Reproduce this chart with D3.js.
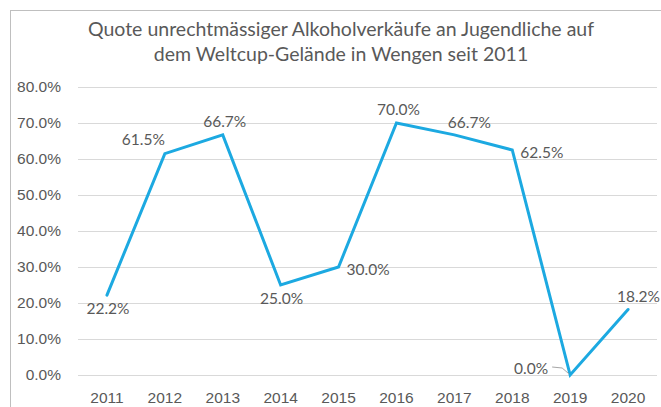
<!DOCTYPE html>
<html>
<head>
<meta charset="utf-8">
<script src="https://cdn.jsdelivr.net/npm/d3@7"></script>
<style>
  body { margin: 0; background: #fff; }
  svg { display: block; font-family: Lato, "Open Sans", sans-serif; }
</style>
</head>
<body>
<svg></svg>
<script>
// data
var years = ["2011", "2012", "2013", "2014", "2015", "2016", "2017", "2018", "2019", "2020"];
var quote = [22.2, 61.5, 66.7, 25.0, 30.0, 70.0, 66.7, 62.5, 0.0, 18.2];
var labelSide = ["below", "left", "above", "below", "right", "above", "aboveRight", "right", "left0", "aboveEdge"];
var yTicks = [0, 10, 20, 30, 40, 50, 60, 70, 80];
var titleLines = ["Quote unrechtmässiger Alkoholverkäufe an Jugendliche auf",
                  "dem Weltcup-Gelände in Wengen seit 2011"];

var data = years.map((d, i) => ({ year: d, value: quote[i], side: labelSide[i] }));

const svgWidth = 661, svgHeight = 407;
var margin = { top: 87, right: 4, bottom: 32, left: 78 };
var width = svgWidth - margin.left - margin.right;
var height = svgHeight - margin.top - margin.bottom;

var textColor = "#595959";
var lineColor = "#1CA9E1";
var fontSize = 15.5;

var svg = d3.select("svg")
    .attr("width", svgWidth)
    .attr("height", svgHeight);

// chart frame
svg.append("rect")
    .attr("x", 10.5).attr("y", 10.5)
    .attr("width", 670).attr("height", 420)
    .attr("fill", "none")
    .attr("stroke", "#bfbfbf");

svg.append("text")
    .attr("text-anchor", "middle")
    .attr("fill", textColor)
    .attr("font-size", 19.5)
    .selectAll("tspan")
    .data(titleLines)
    .enter()
    .append("tspan")
    .attr("x", 341)
    .attr("y", (d, i) => 36 + i * 25)
    .text(d => d);

var g = svg.append("g")
    .attr("transform", "translate(" + margin.left + "," + margin.top + ")");

var x = d3.scaleBand()
    .domain(years)
    .range([0, width]);

var y = d3.scaleLinear()
    .domain([0, 80])
    .range([height, 0]);

// gridlines
g.append("g")
    .selectAll("line")
    .data(yTicks)
    .enter()
    .append("line")
    .attr("x1", 0).attr("x2", width)
    .attr("y1", d => Math.round(y(d)) + 0.5)
    .attr("y2", d => Math.round(y(d)) + 0.5)
    .attr("stroke", "#d9d9d9")
    .attr("stroke-width", 1);

var yAxis = d3.axisLeft(y)
    .tickValues(yTicks)
    .tickSize(0)
    .tickPadding(17)
    .tickFormat(d => d.toFixed(1) + "%");

var xAxis = d3.axisBottom(x)
    .tickSize(0)
    .tickPadding(17);

g.append("g").attr("class", "axis").call(yAxis);
g.append("g").attr("class", "axis")
    .attr("transform", "translate(0," + height + ")")
    .call(xAxis);

g.selectAll(".axis .domain").remove();
g.selectAll(".axis .tick text")
    .attr("font-size", fontSize)
    .attr("fill", textColor);

var cx = d => x(d.year) + x.bandwidth() / 2;

var line = d3.line()
    .x(cx)
    .y(d => y(d.value));

g.append("path")
    .datum(data)
    .attr("d", line)
    .attr("fill", "none")
    .attr("stroke", lineColor)
    .attr("stroke-width", 3)
    .attr("stroke-linejoin", "miter")
    .attr("stroke-linecap", "round");

// label placement relative to the point (dy to baseline)
var place = {
    above:      { dx: 2,   dy: -8,  anchor: "middle" },
    below:      { dx: 1,   dy: 19,  anchor: "middle" },
    aboveRight: { dx: 15,  dy: -7,  anchor: "middle" },
    aboveEdge:  { dx: 32,  dy: -7,  anchor: "end" },
    left:       { dx: 0,   dy: -9,  anchor: "end" },
    right:      { dx: 8,   dy: 8,   anchor: "start" },
    left0:      { dx: -22, dy: -1,  anchor: "end" }
};

g.selectAll(".label")
    .data(data)
    .enter()
    .append("text")
    .attr("class", "label")
    .attr("x", d => cx(d) + place[d.side].dx)
    .attr("y", d => y(d.value) + place[d.side].dy)
    .attr("text-anchor", d => place[d.side].anchor)
    .attr("font-size", fontSize)
    .attr("fill", textColor)
    .text(d => d.value.toFixed(1) + "%");

// leader line for the 0.0% label
var zero = data.filter(d => d.side === "left0")[0];
g.append("path")
    .attr("d", "M" + (cx(zero) - 18) + "," + (y(zero.value) - 8) +
               " L" + (cx(zero) - 8) + "," + (y(zero.value) - 7) +
               " L" + (cx(zero) - 1) + "," + (y(zero.value) - 1))
    .attr("fill", "none")
    .attr("stroke", "#a6a6a6")
    .attr("stroke-width", 1);
</script>
</body>
</html>
